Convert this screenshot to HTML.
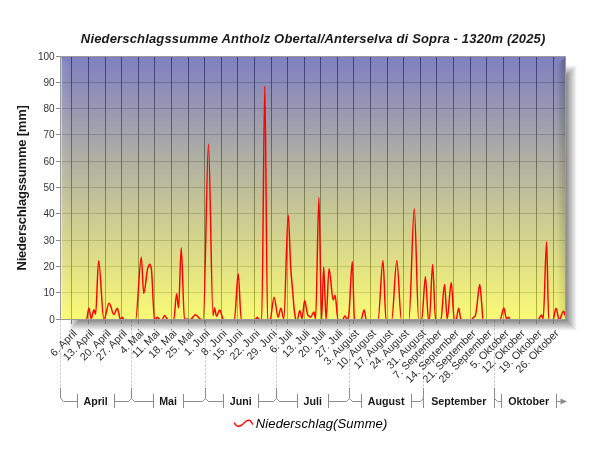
<!DOCTYPE html>
<html><head><meta charset="utf-8"><title>Niederschlagssumme</title>
<style>html,body{margin:0;padding:0;background:#fff;}svg{display:block;}text{font-family:"Liberation Sans",sans-serif;}#c{width:600px;height:450px;will-change:transform;background:#fff;}</style></head>
<body>
<div id="c">
<svg width="600" height="450" viewBox="0 0 600 450">
<defs>
<linearGradient id="bg" x1="0" y1="0" x2="0" y2="1"><stop offset="0" stop-color="#8080c0"/><stop offset="1" stop-color="#fafa76"/></linearGradient>
<linearGradient id="shR" x1="0" y1="0" x2="1" y2="0"><stop offset="0" stop-color="#8a8a8a"/><stop offset="1" stop-color="#ffffff"/></linearGradient>
<linearGradient id="shL" x1="1" y1="0" x2="0" y2="0"><stop offset="0" stop-color="#8a8a8a"/><stop offset="1" stop-color="#ffffff"/></linearGradient>
<linearGradient id="shB" x1="0" y1="0" x2="0" y2="1"><stop offset="0" stop-color="#8a8a8a"/><stop offset="1" stop-color="#ffffff"/></linearGradient>
<linearGradient id="shT" x1="0" y1="1" x2="0" y2="0"><stop offset="0" stop-color="#8a8a8a"/><stop offset="1" stop-color="#ffffff"/></linearGradient>
<linearGradient id="bvL" x1="0" y1="0" x2="1" y2="0"><stop offset="0" stop-color="#fff" stop-opacity="0.5"/><stop offset="0.12" stop-color="#fff" stop-opacity="0.5"/><stop offset="0.13" stop-color="#fff" stop-opacity="0.09"/><stop offset="1" stop-color="#fff" stop-opacity="0"/></linearGradient>
<linearGradient id="bvR" x1="0" y1="0" x2="1" y2="0"><stop offset="0" stop-color="#000" stop-opacity="0"/><stop offset="1" stop-color="#000" stop-opacity="1"/></linearGradient>
<linearGradient id="mv" x1="0" y1="0" x2="0" y2="1"><stop offset="0" stop-color="rgb(59,59,59)"/><stop offset="1" stop-color="rgb(26,26,26)"/></linearGradient>
<mask id="mR" maskUnits="userSpaceOnUse" x="555" y="56" width="12" height="265"><rect x="555" y="57" width="11" height="262" fill="url(#mv)"/></mask>
<clipPath id="cp"><rect x="61" y="57" width="504" height="262"/></clipPath>
</defs>
<rect width="600" height="450" fill="#fff"/>
<g shape-rendering="crispEdges">
<rect x="80" y="76" width="486" height="244" fill="#8a8a8a"/>
<polygon points="566,76 577,65 577,331 566,320" fill="url(#shR)"/>
<polygon points="80,320 566,320 577,331 69,331" fill="url(#shB)"/>
<polygon points="69,65 80,76 80,320 69,331" fill="url(#shL)"/>
<polygon points="69,65 577,65 566,76 80,76" fill="url(#shT)"/>
</g>
<rect x="60" y="56" width="506" height="264" fill="#9c9c9c"/>
<rect x="61" y="57" width="504" height="262" fill="url(#bg)"/>
<linearGradient id="gv" gradientUnits="userSpaceOnUse" x1="0" y1="57" x2="0" y2="319"><stop offset="0" stop-color="rgb(61,61,125)"/><stop offset="1" stop-color="rgb(183,183,51)"/></linearGradient>
<g shape-rendering="crispEdges">
<rect x="61" y="292" width="504" height="1" fill="rgb(208,208,95)"/>
<rect x="61" y="266" width="504" height="1" fill="rgb(196,196,103)"/>
<rect x="61" y="240" width="504" height="1" fill="rgb(183,183,110)"/>
<rect x="61" y="213" width="504" height="1" fill="rgb(171,171,118)"/>
<rect x="61" y="187" width="504" height="1" fill="rgb(159,159,125)"/>
<rect x="61" y="161" width="504" height="1" fill="rgb(147,147,132)"/>
<rect x="61" y="134" width="504" height="1" fill="rgb(134,134,140)"/>
<rect x="61" y="108" width="504" height="1" fill="rgb(122,122,147)"/>
<rect x="61" y="82" width="504" height="1" fill="rgb(110,110,155)"/>
<rect x="71" y="57" width="1" height="262" fill="url(#gv)"/>
<rect x="88" y="57" width="1" height="262" fill="url(#gv)"/>
<rect x="105" y="57" width="1" height="262" fill="url(#gv)"/>
<rect x="121" y="57" width="1" height="262" fill="url(#gv)"/>
<rect x="138" y="57" width="1" height="262" fill="url(#gv)"/>
<rect x="154" y="57" width="1" height="262" fill="url(#gv)"/>
<rect x="171" y="57" width="1" height="262" fill="url(#gv)"/>
<rect x="188" y="57" width="1" height="262" fill="url(#gv)"/>
<rect x="204" y="57" width="1" height="262" fill="url(#gv)"/>
<rect x="221" y="57" width="1" height="262" fill="url(#gv)"/>
<rect x="237" y="57" width="1" height="262" fill="url(#gv)"/>
<rect x="254" y="57" width="1" height="262" fill="url(#gv)"/>
<rect x="271" y="57" width="1" height="262" fill="url(#gv)"/>
<rect x="287" y="57" width="1" height="262" fill="url(#gv)"/>
<rect x="304" y="57" width="1" height="262" fill="url(#gv)"/>
<rect x="320" y="57" width="1" height="262" fill="url(#gv)"/>
<rect x="337" y="57" width="1" height="262" fill="url(#gv)"/>
<rect x="353" y="57" width="1" height="262" fill="url(#gv)"/>
<rect x="370" y="57" width="1" height="262" fill="url(#gv)"/>
<rect x="387" y="57" width="1" height="262" fill="url(#gv)"/>
<rect x="403" y="57" width="1" height="262" fill="url(#gv)"/>
<rect x="420" y="57" width="1" height="262" fill="url(#gv)"/>
<rect x="436" y="57" width="1" height="262" fill="url(#gv)"/>
<rect x="453" y="57" width="1" height="262" fill="url(#gv)"/>
<rect x="470" y="57" width="1" height="262" fill="url(#gv)"/>
<rect x="486" y="57" width="1" height="262" fill="url(#gv)"/>
<rect x="503" y="57" width="1" height="262" fill="url(#gv)"/>
<rect x="519" y="57" width="1" height="262" fill="url(#gv)"/>
<rect x="536" y="57" width="1" height="262" fill="url(#gv)"/>
<rect x="553" y="57" width="1" height="262" fill="url(#gv)"/>
</g>
<polygon points="61,57 70,66 70,310 61,319" fill="url(#bvL)"/>
<polygon points="565,57 556,66 556,310 565,319" fill="url(#bvR)" mask="url(#mR)"/>
<path clip-path="url(#cp)" d="M60.50 319.80C69.17 319.80 77.83 319.80 86.50 319.80C87.30 319.80 88.10 307.95 88.90 307.95C89.67 307.95 90.43 318.75 91.20 318.75C92.13 318.75 93.07 309.79 94.00 309.79C94.53 309.79 95.07 314.27 95.60 314.27C96.60 314.27 97.60 260.82 98.60 260.82C100.37 260.82 102.13 319.80 103.90 319.80C105.63 319.80 107.37 303.21 109.10 303.21C110.70 303.21 112.30 314.53 113.90 314.53C115.03 314.53 116.17 308.21 117.30 308.21C118.37 308.21 119.43 319.54 120.50 319.54C121.13 319.54 121.77 317.17 122.40 317.17C122.90 317.17 123.40 319.80 123.90 319.80C127.80 319.80 131.70 319.80 135.60 319.80C137.50 319.80 139.40 257.13 141.30 257.13C142.10 257.13 142.90 293.47 143.70 293.47C145.10 293.47 146.50 271.32 147.90 267.67C148.53 266.02 149.17 264.24 149.80 264.24C150.30 264.24 150.80 266.25 151.30 268.46C152.37 273.16 153.43 319.80 154.50 319.80C155.47 319.80 156.43 317.17 157.40 317.17C158.27 317.17 159.13 319.80 160.00 319.80C160.67 319.80 161.33 319.80 162.00 319.80C162.87 319.80 163.73 315.59 164.60 315.59C165.70 315.59 166.80 319.80 167.90 319.80C169.87 319.80 171.83 319.80 173.80 319.80C174.73 319.80 175.67 293.73 176.60 293.73C177.27 293.73 177.93 307.95 178.60 307.95C179.47 307.95 180.33 247.66 181.20 247.66C182.30 247.66 183.40 319.80 184.50 319.80C185.33 319.80 186.17 319.01 187.00 319.01C188.00 319.01 189.00 319.80 190.00 319.80C191.83 319.80 193.67 314.80 195.50 314.80C197.17 314.80 198.83 318.79 200.50 319.27C201.43 319.55 202.37 319.80 203.30 319.80C205.03 319.80 206.77 144.18 208.50 144.18C210.00 144.18 211.50 315.59 213.00 315.59C213.50 315.59 214.00 307.95 214.50 307.95C215.17 307.95 215.83 316.38 216.50 316.38C217.53 316.38 218.57 310.06 219.60 310.06C220.97 310.06 222.33 319.80 223.70 319.80C227.27 319.80 230.83 319.80 234.40 319.80C235.67 319.80 236.93 273.72 238.20 273.72C239.23 273.72 240.27 319.80 241.30 319.80C245.87 319.80 250.43 319.80 255.00 319.80C255.77 319.80 256.53 317.17 257.30 317.17C258.03 317.17 258.77 319.80 259.50 319.80C260.23 319.80 260.97 319.80 261.70 319.80C262.73 319.80 263.77 86.25 264.80 86.25C265.73 86.25 266.67 319.80 267.60 319.80C268.40 319.80 269.20 319.80 270.00 319.80C271.37 319.80 272.73 297.16 274.10 297.16C275.43 297.16 276.77 317.17 278.10 317.17C279.03 317.17 279.97 308.21 280.90 308.21C281.87 308.21 282.83 319.01 283.80 319.01C285.27 319.01 286.73 215.01 288.20 215.01C289.07 215.01 289.93 255.80 290.80 268.72C291.43 278.16 292.07 283.93 292.70 291.36C293.30 298.40 293.90 307.78 294.50 312.16C294.97 315.57 295.43 319.80 295.90 319.80C296.43 319.80 296.97 319.58 297.50 319.27C298.27 318.83 299.03 310.58 299.80 310.58C300.57 310.58 301.33 318.48 302.10 318.48C302.93 318.48 303.77 300.58 304.60 300.58C305.67 300.58 306.73 313.71 307.80 315.06C308.73 316.25 309.67 317.17 310.60 317.17C311.73 317.17 312.87 311.90 314.00 311.90C314.53 311.90 315.07 319.01 315.60 319.01C316.70 319.01 317.80 197.37 318.90 197.37C319.80 197.37 320.70 319.80 321.60 319.80C322.30 319.80 323.00 266.88 323.70 266.88C324.50 266.88 325.30 319.80 326.10 319.80C327.07 319.80 328.03 268.72 329.00 268.72C330.43 268.72 331.87 300.05 333.30 300.05C333.90 300.05 334.50 295.31 335.10 295.31C336.07 295.31 337.03 319.80 338.00 319.80C339.50 319.80 341.00 319.80 342.50 319.80C343.33 319.80 344.17 315.85 345.00 315.85C345.77 315.85 346.53 319.54 347.30 319.54C347.73 319.54 348.17 318.14 348.60 316.64C349.83 312.36 351.07 261.35 352.30 261.35C353.03 261.35 353.77 319.80 354.50 319.80C356.67 319.80 358.83 319.80 361.00 319.80C362.03 319.80 363.07 310.06 364.10 310.06C364.83 310.06 365.57 319.80 366.30 319.80C370.20 319.80 374.10 319.80 378.00 319.80C379.67 319.80 381.33 260.56 383.00 260.56C384.00 260.56 385.00 319.80 386.00 319.80C387.90 319.80 389.80 319.80 391.70 319.80C393.40 319.80 395.10 260.56 396.80 260.56C398.33 260.56 399.87 319.80 401.40 319.80C403.90 319.80 406.40 319.80 408.90 319.80C410.70 319.80 412.50 208.69 414.30 208.69C415.77 208.69 417.23 319.80 418.70 319.80C419.70 319.80 420.70 319.80 421.70 319.80C422.93 319.80 424.17 276.62 425.40 276.62C426.43 276.62 427.47 319.80 428.50 319.80C428.80 319.80 429.10 319.80 429.40 319.80C430.47 319.80 431.53 264.51 432.60 264.51C433.60 264.51 434.60 319.80 435.60 319.80C437.37 319.80 439.13 319.80 440.90 319.80C442.10 319.80 443.30 284.52 444.50 284.52C445.40 284.52 446.30 319.01 447.20 319.01C448.53 319.01 449.87 282.41 451.20 282.41C452.23 282.41 453.27 319.80 454.30 319.80C454.87 319.80 455.43 319.80 456.00 319.80C456.90 319.80 457.80 308.21 458.70 308.21C459.47 308.21 460.23 319.80 461.00 319.80C464.43 319.80 467.87 319.80 471.30 319.80C472.03 319.80 472.77 318.14 473.50 317.43C474.10 316.85 474.70 316.78 475.30 315.85C475.87 314.97 476.43 309.61 477.00 305.32C477.43 302.04 477.87 296.02 478.30 292.94C478.80 289.39 479.30 284.52 479.80 284.52C480.43 284.52 481.07 296.92 481.70 304.00C482.13 308.85 482.57 319.80 483.00 319.80C488.67 319.80 494.33 319.80 500.00 319.80C501.30 319.80 502.60 307.95 503.90 307.95C504.70 307.95 505.50 318.48 506.30 318.48C507.07 318.48 507.83 317.17 508.60 317.17C509.17 317.17 509.73 319.80 510.30 319.80C519.53 319.80 528.77 319.80 538.00 319.80C539.20 319.80 540.40 315.06 541.60 315.06C542.13 315.06 542.67 318.75 543.20 318.75C544.33 318.75 545.47 241.60 546.60 241.60C547.30 241.60 548.00 319.80 548.70 319.80C550.13 319.80 551.57 319.80 553.00 319.80C554.00 319.80 555.00 308.21 556.00 308.21C557.07 308.21 558.13 319.80 559.20 319.80C560.60 319.80 562.00 311.11 563.40 311.11C564.03 311.11 564.67 314.27 565.30 315.85" fill="none" stroke="#ff0000" stroke-width="1.45" stroke-linejoin="round"/>
<rect x="60" y="319" width="506" height="1" fill="#9a9a9a" shape-rendering="crispEdges"/>
<g shape-rendering="crispEdges" fill="#8c8c8c">
<rect x="56" y="319" width="4" height="1"/>
<rect x="56" y="292" width="4" height="1"/>
<rect x="56" y="266" width="4" height="1"/>
<rect x="56" y="240" width="4" height="1"/>
<rect x="56" y="213" width="4" height="1"/>
<rect x="56" y="187" width="4" height="1"/>
<rect x="56" y="161" width="4" height="1"/>
<rect x="56" y="134" width="4" height="1"/>
<rect x="56" y="108" width="4" height="1"/>
<rect x="56" y="82" width="4" height="1"/>
<rect x="56" y="56" width="4" height="1"/>
<rect x="71" y="320" width="1" height="4" fill="#7a7a7a"/>
<rect x="88" y="320" width="1" height="4" fill="#7a7a7a"/>
<rect x="105" y="320" width="1" height="4" fill="#7a7a7a"/>
<rect x="121" y="320" width="1" height="4" fill="#7a7a7a"/>
<rect x="138" y="320" width="1" height="4" fill="#7a7a7a"/>
<rect x="154" y="320" width="1" height="4" fill="#7a7a7a"/>
<rect x="171" y="320" width="1" height="4" fill="#7a7a7a"/>
<rect x="188" y="320" width="1" height="4" fill="#7a7a7a"/>
<rect x="204" y="320" width="1" height="4" fill="#7a7a7a"/>
<rect x="221" y="320" width="1" height="4" fill="#7a7a7a"/>
<rect x="237" y="320" width="1" height="4" fill="#7a7a7a"/>
<rect x="254" y="320" width="1" height="4" fill="#7a7a7a"/>
<rect x="271" y="320" width="1" height="4" fill="#7a7a7a"/>
<rect x="287" y="320" width="1" height="4" fill="#7a7a7a"/>
<rect x="304" y="320" width="1" height="4" fill="#7a7a7a"/>
<rect x="320" y="320" width="1" height="4" fill="#7a7a7a"/>
<rect x="337" y="320" width="1" height="4" fill="#7a7a7a"/>
<rect x="353" y="320" width="1" height="4" fill="#7a7a7a"/>
<rect x="370" y="320" width="1" height="4" fill="#7a7a7a"/>
<rect x="387" y="320" width="1" height="4" fill="#7a7a7a"/>
<rect x="403" y="320" width="1" height="4" fill="#7a7a7a"/>
<rect x="420" y="320" width="1" height="4" fill="#7a7a7a"/>
<rect x="436" y="320" width="1" height="4" fill="#7a7a7a"/>
<rect x="453" y="320" width="1" height="4" fill="#7a7a7a"/>
<rect x="470" y="320" width="1" height="4" fill="#7a7a7a"/>
<rect x="486" y="320" width="1" height="4" fill="#7a7a7a"/>
<rect x="503" y="320" width="1" height="4" fill="#7a7a7a"/>
<rect x="519" y="320" width="1" height="4" fill="#7a7a7a"/>
<rect x="536" y="320" width="1" height="4" fill="#7a7a7a"/>
<rect x="553" y="320" width="1" height="4" fill="#7a7a7a"/>
</g>
<g font-family="'Liberation Sans',sans-serif" font-size="10" fill="#000" fill-opacity="0.82" text-anchor="end">
<text x="54.7" y="323.4">0</text>
<text x="54.7" y="296.4">10</text>
<text x="54.7" y="270.4">20</text>
<text x="54.7" y="244.4">30</text>
<text x="54.7" y="217.4">40</text>
<text x="54.7" y="191.4">50</text>
<text x="54.7" y="165.4">60</text>
<text x="54.7" y="138.4">70</text>
<text x="54.7" y="112.4">80</text>
<text x="54.7" y="86.4">90</text>
<text x="54.7" y="60.4">100</text>
</g>
<g font-family="'Liberation Sans',sans-serif" font-size="10.67" fill="#000" fill-opacity="0.84" text-anchor="end">
<text transform="translate(77.5 334.0) rotate(-45)" x="0" y="0">6. April</text>
<text transform="translate(94.5 334.0) rotate(-45)" x="0" y="0">13. April</text>
<text transform="translate(111.5 334.0) rotate(-45)" x="0" y="0">20. April</text>
<text transform="translate(127.5 334.0) rotate(-45)" x="0" y="0">27. April</text>
<text transform="translate(144.5 334.0) rotate(-45)" x="0" y="0">4. Mai</text>
<text transform="translate(160.5 334.0) rotate(-45)" x="0" y="0">11. Mai</text>
<text transform="translate(177.5 334.0) rotate(-45)" x="0" y="0">18. Mai</text>
<text transform="translate(194.5 334.0) rotate(-45)" x="0" y="0">25. Mai</text>
<text transform="translate(210.5 334.0) rotate(-45)" x="0" y="0">1. Juni</text>
<text transform="translate(227.5 334.0) rotate(-45)" x="0" y="0">8. Juni</text>
<text transform="translate(243.5 334.0) rotate(-45)" x="0" y="0">15. Juni</text>
<text transform="translate(260.5 334.0) rotate(-45)" x="0" y="0">22. Juni</text>
<text transform="translate(277.5 334.0) rotate(-45)" x="0" y="0">29. Juni</text>
<text transform="translate(293.5 334.0) rotate(-45)" x="0" y="0">6. Juli</text>
<text transform="translate(310.5 334.0) rotate(-45)" x="0" y="0">13. Juli</text>
<text transform="translate(326.5 334.0) rotate(-45)" x="0" y="0">20. Juli</text>
<text transform="translate(343.5 334.0) rotate(-45)" x="0" y="0">27. Juli</text>
<text transform="translate(359.5 334.0) rotate(-45)" x="0" y="0">3. August</text>
<text transform="translate(376.5 334.0) rotate(-45)" x="0" y="0">10. August</text>
<text transform="translate(393.5 334.0) rotate(-45)" x="0" y="0">17. August</text>
<text transform="translate(409.5 334.0) rotate(-45)" x="0" y="0">24. August</text>
<text transform="translate(426.5 334.0) rotate(-45)" x="0" y="0">31. August</text>
<text transform="translate(442.5 334.0) rotate(-45)" x="0" y="0">7. September</text>
<text transform="translate(459.5 334.0) rotate(-45)" x="0" y="0">14. September</text>
<text transform="translate(476.5 334.0) rotate(-45)" x="0" y="0">21. September</text>
<text transform="translate(492.5 334.0) rotate(-45)" x="0" y="0">28. September</text>
<text transform="translate(509.5 334.0) rotate(-45)" x="0" y="0">5. Oktober</text>
<text transform="translate(525.5 334.0) rotate(-45)" x="0" y="0">12. Oktober</text>
<text transform="translate(542.5 334.0) rotate(-45)" x="0" y="0">19. Oktober</text>
<text transform="translate(559.5 334.0) rotate(-45)" x="0" y="0">26. Oktober</text>
</g>
<g stroke="#000" stroke-opacity="0.18" stroke-width="1" stroke-dasharray="3 1" shape-rendering="crispEdges">
<line x1="60.5" y1="320" x2="60.5" y2="388"/>
<line x1="131.5" y1="320" x2="131.5" y2="388"/>
<line x1="205.5" y1="320" x2="205.5" y2="388"/>
<line x1="276.5" y1="320" x2="276.5" y2="388"/>
<line x1="349.5" y1="320" x2="349.5" y2="388"/>
<line x1="423.5" y1="320" x2="423.5" y2="388"/>
<line x1="494.5" y1="320" x2="494.5" y2="388"/>
</g>
<g fill="none" stroke="#8c8c8c" stroke-width="1">
<path d="M60.5 388V398L63.5 401.5H77.5"/>
<path d="M77.5 394V408"/>
<path d="M114.5 394V408"/>
<path d="M114.5 401.5H128.5L131.5 398.5"/>
<path d="M131.5 388V398.5L134.5 401.5H153.5"/>
<path d="M153.5 394V408"/>
<path d="M183.5 394V408"/>
<path d="M183.5 401.5H202.5L205.5 398.5"/>
<path d="M205.5 388V398.5L208.5 401.5H223.5"/>
<path d="M223.5 394V408"/>
<path d="M258.5 394V408"/>
<path d="M258.5 401.5H273.5L276.5 398.5"/>
<path d="M276.5 388V398.5L279.5 401.5H297.5"/>
<path d="M297.5 394V408"/>
<path d="M328.5 394V408"/>
<path d="M328.5 401.5H346.5L349.5 398.5"/>
<path d="M349.5 388V398.5L352.5 401.5H361.5"/>
<path d="M361.5 394V408"/>
<path d="M411.5 394V408"/>
<path d="M411.5 401.5H420.5L423.5 398.5"/>
<path d="M423.5 388V408"/>
<path d="M494.5 394V408"/>
<path d="M494.5 388V398.5L497.5 401.5H501.5"/>
<path d="M501.5 394V408"/>
<path d="M556.5 394V408"/>
<path d="M556.5 401.5H561"/>
</g>
<polygon points="560.5,398.5 567,401.5 560.5,404.5" fill="#8c8c8c"/>
<g font-family="'Liberation Sans',sans-serif" font-size="10.67" font-weight="bold" fill="#000" fill-opacity="0.9" text-anchor="middle">
<text x="95.6" y="404.7">April</text>
<text x="168.1" y="404.7">Mai</text>
<text x="240.7" y="404.7">Juni</text>
<text x="312.7" y="404.7">Juli</text>
<text x="386.2" y="404.7">August</text>
<text x="458.8" y="404.7">September</text>
<text x="528.7" y="404.7">Oktober</text>
</g>
<text x="313.1" y="43.2" textLength="464.5" lengthAdjust="spacing" font-family="'Liberation Sans',sans-serif" font-size="13" font-weight="bold" font-style="italic" text-anchor="middle" fill="#000" fill-opacity="0.9">Niederschlagssumme Antholz Obertal/Anterselva di Sopra - 1320m (2025)</text>
<text transform="translate(25.8 187.8) rotate(-90)" textLength="165.5" lengthAdjust="spacing" font-family="'Liberation Sans',sans-serif" font-size="13" font-weight="bold" text-anchor="middle" fill="#000" fill-opacity="0.9">Niederschlagssumme [mm]</text>
<path d="M234.3 422.5C235.5 426.5 238.5 427.2 241.5 425.2C244.5 423.2 246 419.8 249 420.2C251 420.5 252 422.5 252.6 424.6" fill="none" stroke="#ff0000" stroke-width="1.4"/>
<text x="255.8" y="428.1" textLength="131.5" lengthAdjust="spacing" font-family="'Liberation Sans',sans-serif" font-size="13" font-style="italic" fill="#000">Niederschlag(Summe)</text>
</svg>
</div>
</body></html>
